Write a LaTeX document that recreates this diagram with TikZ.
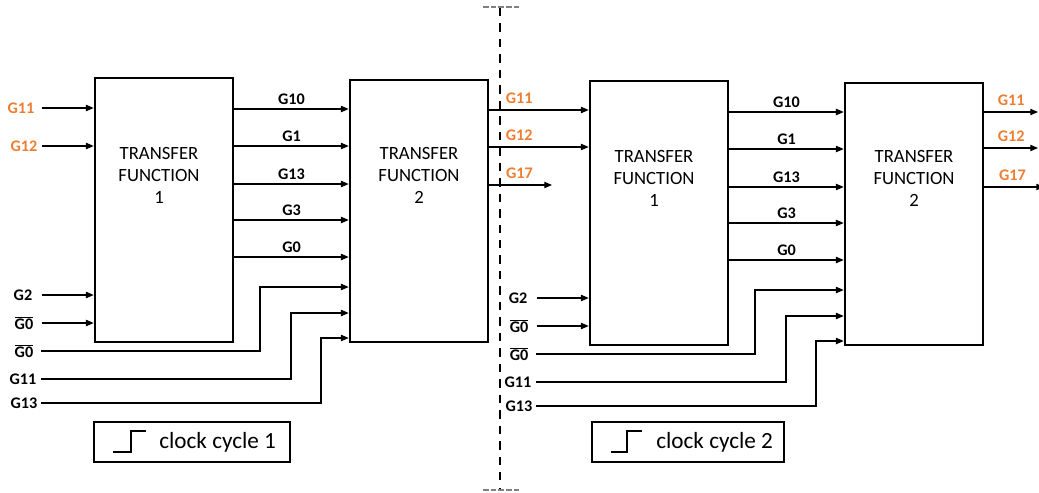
\documentclass[tikz,border=0pt]{standalone}
\usepackage{fontspec}
\setmainfont{Carlito}
\usepackage{tikz}
\usetikzlibrary{arrows.meta, calc}
\definecolor{sigorange}{RGB}{237,125,49}
\definecolor{capgray}{RGB}{128,128,128}
\newcommand{\nbar}[1]{$\overline{\mbox{#1}}$}

\begin{document}
\begin{tikzpicture}[x=0.025cm, y=-0.025cm, >={Triangle[length=5.5pt,width=4.5pt]},
  tfbox/.style={draw, line width=1.8pt, minimum width=3.45cm, minimum height=6.6cm, inner sep=0pt},
  tftext/.style={align=center, font=\fontsize{13.3}{15.6}\selectfont},
  sig/.style={font=\fontsize{11.5}{13}\selectfont\bfseries, inner sep=2pt},
  sigor/.style={sig, text=sigorange},
  wire/.style={->, line width=0.8pt},
  clkbox/.style={draw, line width=0.8pt, minimum height=1cm, inner sep=0pt},
  clktext/.style={anchor=base west, inner sep=0pt, font=\fontsize{16.5}{19}\selectfont},
  clkstep/.style={line width=1.3pt},
  divider/.style={line width=2pt, dash pattern=on 6pt off 5pt},
  capline/.style={capgray, line width=1.3pt, dash pattern=on 4pt off 1.5pt}]
\useasboundingbox (0,0) rectangle (1039,493);

% clock cycle 1
\begin{scope}
  \node[tfbox] (tf1a) at (164,210) {};
  \node[tfbox, minimum height=6.55cm] (tf1b) at (419,211) {};
  \node[tftext] (tf1at) at (159,175) {TRANSFER\\FUNCTION\\1};
  \node[tftext] (tf1bt) at (419,175) {TRANSFER\\FUNCTION\\2};
  \coordinate (in1) at (42,0);
  \coordinate (bk1) at (41,0);
  \node[sigor] (i1g11) at (21,108) {G11};
  \node[sigor] (i1g12) at (24,146) {G12};
  \node[sig] (i1g2) at (23,295) {G2};
  \node[sig] (i1g0) at (24,323) {\nbar{G0}};
  \foreach \n in {i1g11,i1g12,i1g2,i1g0}
    \draw[wire] (\n -| in1) -- (\n -| tf1a.west);
  \foreach \y/\g in {109/G10,146/G1,184/G13,220/G3,257/G0}
    \draw[wire] (tf1a.east |- 0,\y) -- node[sig, above=1pt] (m1\g) {\g} (tf1b.west |- 0,\y);
  % fed round the first box
  \node[sig] (b1g0) at (24,351) {\nbar{G0}};
  \node[sig] (b1g11) at (23,379) {G11};
  \node[sig] (b1g13) at (24,403) {G13};
  \draw[wire] (b1g0 -| bk1) -| (260,287) -- (tf1b.west |- 0,287);
  \draw[wire] (b1g11 -| bk1) -| (291,313) -- (tf1b.west |- 0,313);
  \draw[wire] (b1g13 -| bk1) -| (321,338) -- (tf1b.west |- 0,338);
\end{scope}

% clock cycle 2
\begin{scope}[shift={(495,3)}]
  \node[tfbox] (tf2a) at (164,210) {};
  \node[tfbox, minimum height=6.55cm] (tf2b) at (419,211) {};
  \node[tftext] (tf2at) at (159,175) {TRANSFER\\FUNCTION\\1};
  \node[tftext] (tf2bt) at (419,175) {TRANSFER\\FUNCTION\\2};
  \coordinate (in2) at (42,0);
  \coordinate (bk2) at (41,0);
  \node[sig] (i2g2) at (23,295) {G2};
  \node[sig] (i2g0) at (24,323) {\nbar{G0}};
  \foreach \n in {i2g2,i2g0}
    \draw[wire] (\n -| in2) -- (\n -| tf2a.west);
  \foreach \y/\g in {109/G10,146/G1,184/G13,220/G3,257/G0}
    \draw[wire] (tf2a.east |- 0,\y) -- node[sig, above=1pt] (m2\g) {\g} (tf2b.west |- 0,\y);
  % fed round the first box
  \node[sig] (b2g0) at (24,351) {\nbar{G0}};
  \node[sig] (b2g11) at (23,379) {G11};
  \node[sig] (b2g13) at (24,403) {G13};
  \draw[wire] (b2g0 -| bk2) -| (260,287) -- (tf2b.west |- 0,287);
  \draw[wire] (b2g11 -| bk2) -| (291,313) -- (tf2b.west |- 0,313);
  \draw[wire] (b2g13 -| bk2) -| (321,338) -- (tf2b.west |- 0,338);
  % outputs at the right edge
  \coordinate (edge) at (543,0);
  \coordinate (g17out) at (549,184);
  \foreach \y/\g in {109/G11,145/G12}
    \draw[wire] (tf2b.east |- 0,\y) -- node[sigor, above=2.5pt] (o2\g) {\g} (edge |- 0,\y);
  \draw[wire] (tf2b.east |- g17out) -- node[sigor, above=2.5pt, pos=0.47] (o2G17) {G17} (g17out);
\end{scope}

% handover 1 -> 2
\coordinate (g17end) at (552,185);
\draw[wire] (tf1b.east |- 0,110) -- node[sigor, above=2.5pt, pos=0.3] (o1G11) {G11} (tf2a.west |- 0,110);
\draw[wire] (tf1b.east |- 0,147) -- node[sigor, above=2.5pt, pos=0.3] (o1G12) {G12} (tf2a.west |- 0,147);
\draw[wire] (tf1b.east |- g17end) -- node[sigor, above=2.5pt, pos=0.48] (o1G17) {G17} (g17end);

% clock boxes
\node[clkbox, minimum width=4.9cm] (clk1) at (192,442) {};
\node[clktext] (clk1t) at (159,448) {clock cycle 1};
\draw[clkstep] (113,452) -- (131,452) -- (131,431) -- (146,431);
\node[clkbox, minimum width=4.8cm] (clk2) at (688,442) {};
\node[clktext] (clk2t) at (656,448) {clock cycle 2};
\draw[clkstep] (611,452) -- (627,452) -- (627,431) -- (642,431);

% divider
\draw[divider] (500,8) -- (500,490);
\draw[capline] (483,7) -- (519,7);
\draw[capline] (483,490) -- (519,490);
\end{tikzpicture}
\end{document}
